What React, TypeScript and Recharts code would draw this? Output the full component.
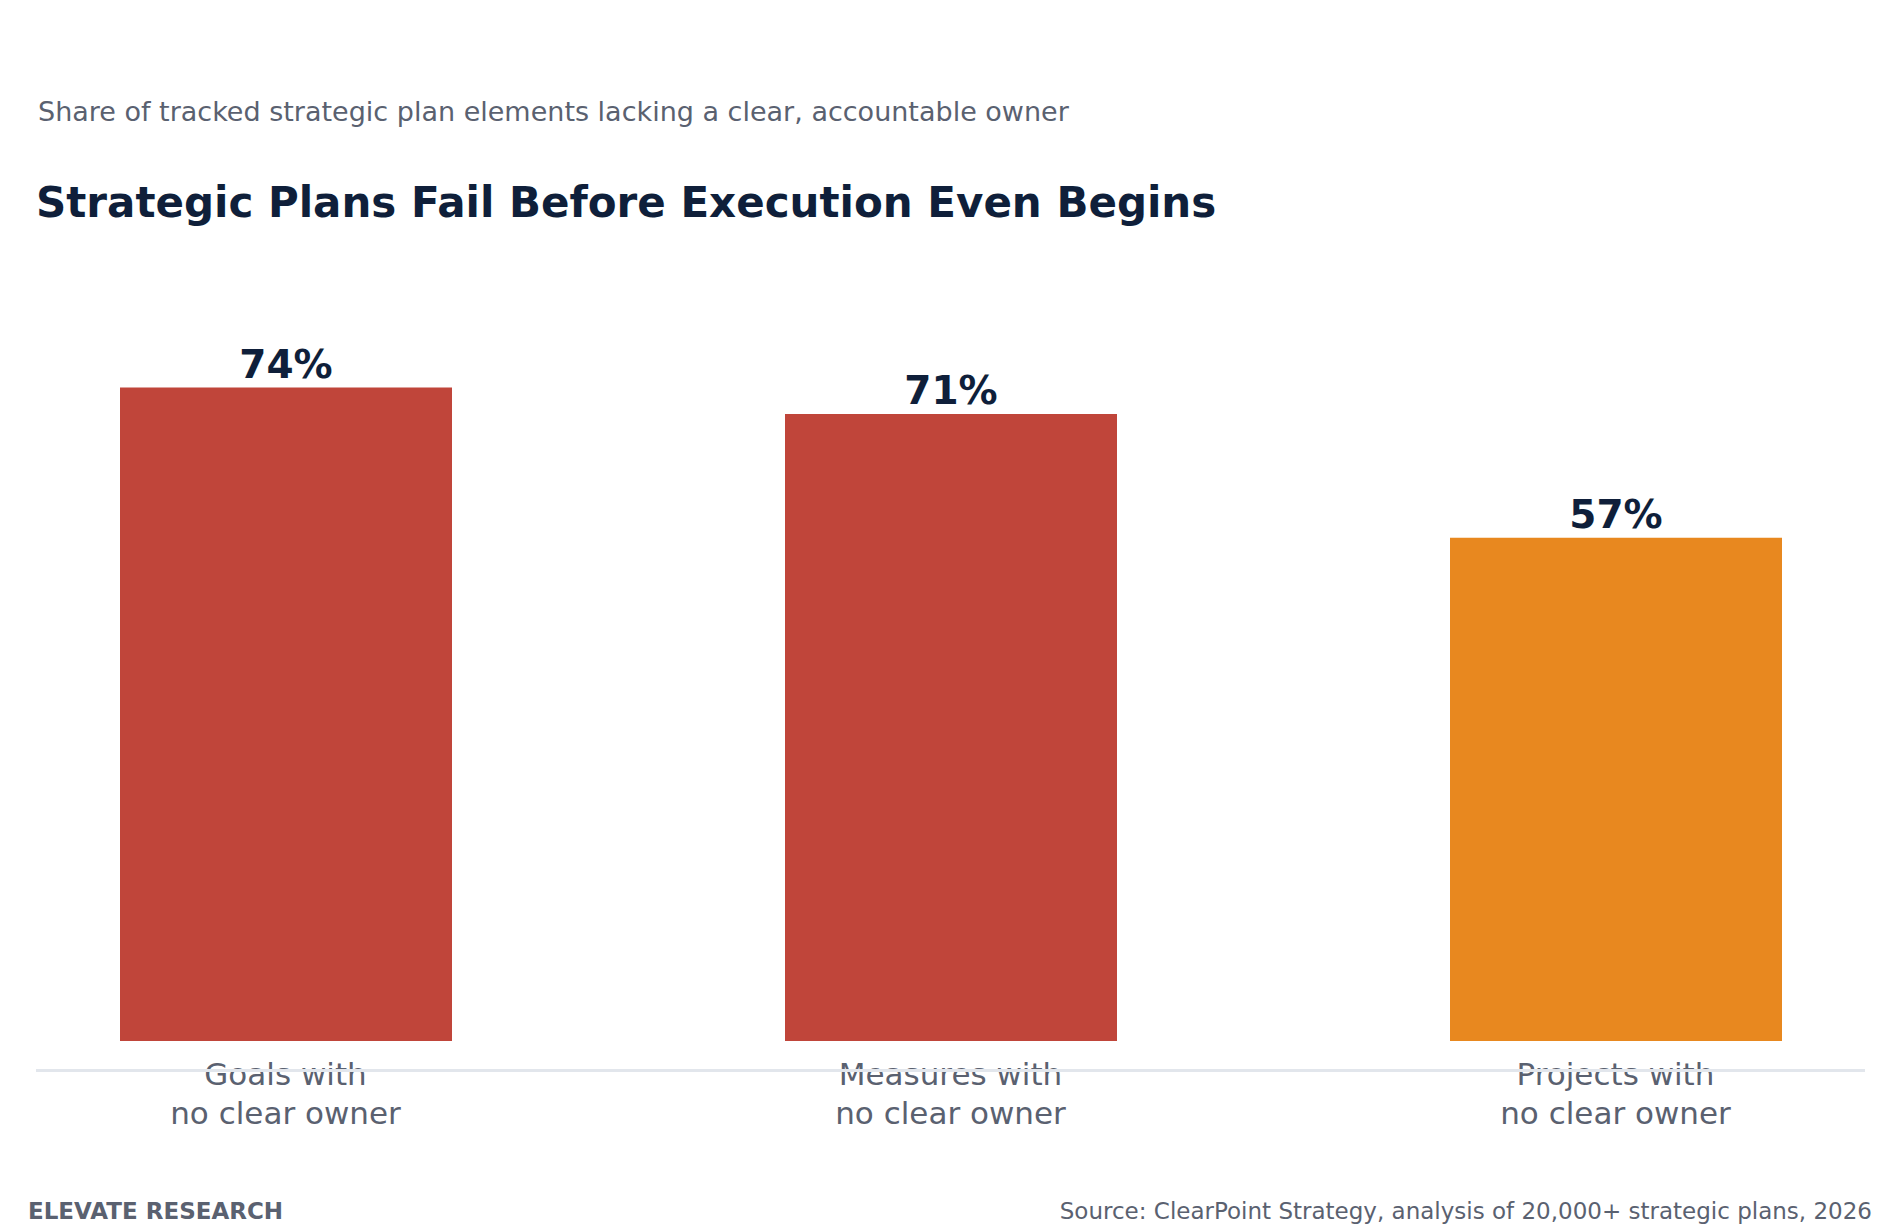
import React from "react";
import { BarChart, Bar, XAxis, YAxis, Cell, LabelList } from "recharts";

const categories = ["Goals with|no clear owner", "Measures with|no clear owner", "Projects with|no clear owner"];
const values = [74, 71, 57];
const colors = ["#c0453a", "#c0453a", "#e8881f"];
const data = categories.map((c, i) => ({ name: c, value: values[i] }));
const font = "DejaVu Sans, sans-serif";

const Tick = (props: any) => {
  const { x, y, payload } = props;
  const lines = String(payload.value).split("|");
  return (
    <g transform={`translate(${x},${y})`}>
      {lines.map((l, i) => (
        <text key={i} x={0} y={36 + i * 39} textAnchor="middle" fill="#5a6170" fontSize={31} fontFamily={font}>{l}</text>
      ))}
    </g>
  );
};

export default function App() {
  return (
    <div style={{ position: "fixed", left: 0, top: 0, width: 1892, height: 1232, overflow: "hidden", background: "#fff", fontFamily: font }}>
      <div style={{ position: "absolute", left: 38, top: 96, fontSize: 27, color: "#5a6170", whiteSpace: "nowrap" }}>
        Share of tracked strategic plan elements lacking a clear, accountable owner
      </div>
      <div style={{ position: "absolute", left: 36, top: 178, fontSize: 42, fontWeight: "bold", color: "#0f1f3a", whiteSpace: "nowrap" }}>
        Strategic Plans Fail Before Execution Even Begins
      </div>
      <div style={{ position: "absolute", left: -47, top: 0 }}>
        <BarChart width={1995} height={1232} data={data} margin={{ top: 158, bottom: 161, left: 0, right: 0 }}>
          <XAxis dataKey="name" axisLine={false} tickLine={false} tick={<Tick />} interval={0} />
          <YAxis hide domain={[0, 100]} />
          <Bar dataKey="value" barSize={332} isAnimationActive={false}>
            {data.map((d, i) => <Cell key={i} fill={colors[i]} />)}
            <LabelList dataKey="value" position="top" offset={10} formatter={(v: any) => `${v}%`} fill="#0f1f3a" fontSize={39} fontWeight="bold" fontFamily={font} />
          </Bar>
        </BarChart>
      </div>
      <div style={{ position: "absolute", left: 36, top: 1069, width: 1829, height: 3, background: "#e2e6ec" }} />
      <div style={{ position: "absolute", left: 28, top: 1198, fontSize: 23, fontWeight: "bold", color: "#5a6170" }}>ELEVATE RESEARCH</div>
      <div style={{ position: "absolute", right: 20, top: 1198, fontSize: 23, color: "#5a6170", whiteSpace: "nowrap" }}>
        Source: ClearPoint Strategy, analysis of 20,000+ strategic plans, 2026
      </div>
    </div>
  );
}
